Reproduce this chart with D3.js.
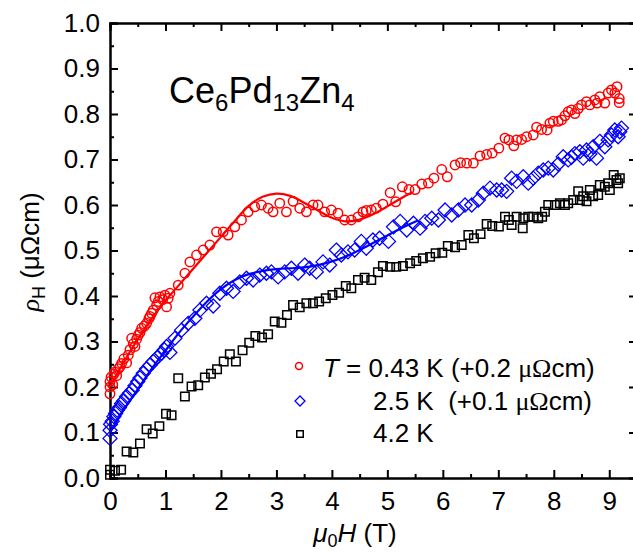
<!DOCTYPE html>
<html>
<head>
<meta charset="utf-8">
<script src="https://cdn.jsdelivr.net/npm/d3@7"></script>
<style>
  body { margin: 0; background: #fff; }
  text { font-family: "Liberation Sans", Arial, sans-serif; fill: #000; }
</style>
</head>
<body>
<div id="chart"></div>
<script>
// rho_H (uOhm cm) vs mu0H (T), three temperatures
const t043 = [[0.00,0.185],[0.00,0.200],[0.00,0.212],[0.02,0.222],[0.05,0.205],[0.07,0.228],[0.09,0.233],[0.12,0.225],[0.15,0.240],[0.18,0.245],[0.21,0.252],[0.25,0.262],[0.30,0.253],[0.33,0.270],[0.36,0.282],[0.39,0.307],[0.42,0.295],[0.45,0.289],[0.48,0.305],[0.51,0.314],[0.54,0.320],[0.57,0.329],[0.62,0.334],[0.66,0.340],[0.70,0.350],[0.72,0.355],[0.75,0.362],[0.78,0.369],[0.81,0.396],[0.84,0.380],[0.87,0.388],[0.90,0.398],[0.95,0.392],[0.99,0.402],[1.02,0.376],[1.05,0.395],[1.08,0.406],[1.23,0.424],[1.35,0.45],[1.44,0.475],[1.56,0.49],[1.68,0.501],[1.80,0.512],[1.92,0.541],[2.04,0.541],[2.13,0.534],[2.25,0.552],[2.37,0.567],[2.49,0.585],[2.61,0.596],[2.73,0.60],[2.85,0.593],[2.94,0.585],[3.06,0.604],[3.18,0.585],[3.30,0.608],[3.42,0.593],[3.54,0.585],[3.66,0.60],[3.75,0.60],[3.87,0.585],[3.99,0.589],[4.11,0.582],[4.23,0.567],[4.35,0.567],[4.47,0.574],[4.56,0.585],[4.62,0.588],[4.71,0.589],[4.80,0.593],[4.92,0.602],[5.05,0.627],[5.15,0.607],[5.27,0.64],[5.39,0.634],[5.50,0.634],[5.62,0.646],[5.74,0.648],[5.84,0.659],[5.98,0.678],[6.08,0.662],[6.22,0.688],[6.32,0.693],[6.43,0.692],[6.55,0.692],[6.67,0.708],[6.79,0.711],[6.89,0.714],[7.01,0.725],[7.12,0.747],[7.19,0.743],[7.28,0.73],[7.33,0.743],[7.42,0.744],[7.51,0.75],[7.63,0.754],[7.69,0.771],[7.78,0.766],[7.88,0.765],[7.93,0.78],[7.99,0.784],[8.08,0.784],[8.14,0.787],[8.20,0.796],[8.26,0.805],[8.32,0.809],[8.38,0.801],[8.44,0.812],[8.50,0.82],[8.59,0.827],[8.65,0.82],[8.74,0.831],[8.78,0.824],[8.83,0.838],[8.92,0.824],[8.98,0.846],[9.04,0.853],[9.10,0.846],[9.14,0.86],[9.18,0.834],[9.18,0.825]];

const t25 = [[0.00,0.087],[0.00,0.105],[0.01,0.118],[0.04,0.125],[0.07,0.135],[0.10,0.142],[0.13,0.149],[0.17,0.155],[0.21,0.164],[0.25,0.170],[0.30,0.179],[0.35,0.186],[0.40,0.193],[0.45,0.203],[0.50,0.212],[0.54,0.220],[0.60,0.230],[0.66,0.240],[0.72,0.248],[0.78,0.256],[0.85,0.265],[0.93,0.274],[0.98,0.282],[1.02,0.289],[1.08,0.276],[1.17,0.307],[1.29,0.325],[1.41,0.34],[1.53,0.351],[1.62,0.369],[1.74,0.384],[1.86,0.378],[1.98,0.406],[2.10,0.417],[2.22,0.41],[2.34,0.431],[2.46,0.439],[2.58,0.435],[2.70,0.446],[2.82,0.45],[2.91,0.453],[3.03,0.442],[3.15,0.453],[3.27,0.461],[3.39,0.45],[3.51,0.468],[3.60,0.461],[3.72,0.453],[3.84,0.475],[3.96,0.468],[4.08,0.501],[4.17,0.49],[4.29,0.497],[4.41,0.501],[4.53,0.52],[4.62,0.505],[4.74,0.523],[4.86,0.527],[5.02,0.52],[5.11,0.552],[5.23,0.564],[5.35,0.545],[5.47,0.56],[5.59,0.549],[5.68,0.564],[5.80,0.571],[5.92,0.567],[6.04,0.589],[6.16,0.578],[6.28,0.589],[6.40,0.60],[6.52,0.60],[6.64,0.611],[6.73,0.626],[6.85,0.637],[6.97,0.633],[7.06,0.633],[7.15,0.63],[7.24,0.659],[7.33,0.652],[7.45,0.662],[7.54,0.648],[7.63,0.659],[7.72,0.67],[7.81,0.677],[7.90,0.681],[7.99,0.677],[8.08,0.69],[8.17,0.706],[8.26,0.699],[8.32,0.705],[8.38,0.713],[8.47,0.717],[8.53,0.703],[8.59,0.721],[8.65,0.712],[8.71,0.728],[8.77,0.703],[8.83,0.74],[8.92,0.728],[8.98,0.743],[9.04,0.754],[9.10,0.765],[9.16,0.75],[9.19,0.761],[9.22,0.769]];

const t42 = [[0.00,0.007],[0.00,0.018],[0.09,0.016],[0.20,0.018],[0.30,0.058],[0.42,0.056],[0.54,0.076],[0.66,0.107],[0.77,0.098],[0.89,0.114],[1.01,0.141],[1.11,0.138],[1.23,0.219],[1.35,0.179],[1.47,0.201],[1.59,0.204],[1.71,0.221],[1.82,0.229],[1.93,0.239],[2.05,0.256],[2.16,0.272],[2.27,0.256],[2.39,0.281],[2.51,0.297],[2.62,0.312],[2.74,0.309],[2.85,0.316],[2.97,0.344],[3.09,0.341],[3.19,0.358],[3.30,0.38],[3.42,0.375],[3.54,0.384],[3.66,0.384],[3.77,0.388],[3.89,0.395],[4.01,0.402],[4.13,0.407],[4.25,0.422],[4.35,0.417],[4.47,0.435],[4.59,0.44],[4.71,0.435],[4.83,0.452],[4.92,0.466],[5.05,0.464],[5.16,0.464],[5.28,0.466],[5.41,0.472],[5.52,0.477],[5.64,0.483],[5.77,0.486],[5.87,0.494],[5.99,0.495],[6.09,0.51],[6.22,0.507],[6.34,0.512],[6.46,0.534],[6.56,0.527],[6.68,0.536],[6.79,0.558],[6.89,0.554],[7.01,0.553],[7.12,0.574],[7.19,0.567],[7.24,0.556],[7.33,0.574],[7.44,0.549],[7.45,0.571],[7.54,0.574],[7.63,0.574],[7.72,0.571],[7.79,0.574],[7.84,0.585],[7.90,0.60],[8.02,0.60],[8.11,0.604],[8.20,0.60],[8.26,0.604],[8.35,0.611],[8.44,0.63],[8.47,0.611],[8.53,0.619],[8.59,0.608],[8.65,0.633],[8.71,0.619],[8.80,0.622],[8.83,0.644],[8.92,0.64],[8.98,0.648],[9.01,0.633],[9.08,0.666],[9.13,0.655],[9.16,0.648],[9.19,0.659]];

// model curves drawn through the 0.43 K and 2.5 K data
const fit043 = [[0,0.20],[0.25,0.255],[0.5,0.305],[0.75,0.35],[1.0,0.39],[1.25,0.425],[1.5,0.46],[1.75,0.495],[2.0,0.53],[2.25,0.565],[2.5,0.598],[2.75,0.618],[3.0,0.625],[3.25,0.62],[3.5,0.605],[3.75,0.588],[4.0,0.572],[4.25,0.564],[4.5,0.568],[4.75,0.58],[5.0,0.597],[5.25,0.615],[5.45,0.628]];
const fit25 = [[0,0.10],[0.25,0.15],[0.5,0.195],[0.75,0.24],[1.0,0.28],[1.25,0.32],[1.5,0.355],[1.75,0.388],[2.0,0.415],[2.25,0.435],[2.5,0.448],[2.75,0.455],[3.0,0.459],[3.25,0.461],[3.5,0.463],[3.75,0.468],[4.0,0.476],[4.25,0.487],[4.5,0.501],[4.75,0.517],[5.0,0.533],[5.25,0.549],[5.55,0.566]];

const xMajor = [0,1,2,3,4,5,6,7,8,9];
const yMajor = [0,0.1,0.2,0.3,0.4,0.5,0.6,0.7,0.8,0.9,1.0];

const W = 633, H = 552;
const mLeft = 110, mTop = 23, mRight = 637, mBottom = 478;

const svg = d3.select("#chart").append("svg")
    .attr("width", W).attr("height", H);

const x = d3.scaleLinear().domain([0, 9.5]).range([mLeft, mRight]);
const y = d3.scaleLinear().domain([0, 1]).range([mBottom, mTop]);

const xMinor = d3.range(0.5, 9.6, 1);
const yMinor = d3.range(0.05, 1, 0.1);

function styleAxis(g) {
    g.select(".domain").attr("stroke", "#000").attr("stroke-width", 2);
    g.selectAll(".tick line").attr("stroke", "#000").attr("stroke-width", 2);
    g.selectAll("text").style("font-size", "26px").attr("fill", "#000");
}

// bottom
svg.append("g").attr("transform", `translate(0,${mBottom})`)
    .call(d3.axisBottom(x).tickValues(xMajor).tickSize(-8).tickPadding(14).tickFormat(d3.format("d")))
    .call(styleAxis);
svg.append("g").attr("transform", `translate(0,${mBottom})`)
    .call(d3.axisBottom(x).tickValues(xMinor).tickSize(-4).tickFormat(""))
    .call(styleAxis);
// top
svg.append("g").attr("transform", `translate(0,${mTop})`)
    .call(d3.axisTop(x).tickValues(xMajor).tickSize(-8).tickFormat(""))
    .call(styleAxis);
svg.append("g").attr("transform", `translate(0,${mTop})`)
    .call(d3.axisTop(x).tickValues(xMinor).tickSize(-4).tickFormat(""))
    .call(styleAxis);
// left
svg.append("g").attr("transform", `translate(${mLeft},0)`)
    .call(d3.axisLeft(y).tickValues(yMajor).tickSize(-8).tickPadding(10).tickFormat(d3.format(".1f")))
    .call(styleAxis);
svg.append("g").attr("transform", `translate(${mLeft},0)`)
    .call(d3.axisLeft(y).tickValues(yMinor).tickSize(-4).tickFormat(""))
    .call(styleAxis);
// right
svg.append("g").attr("transform", `translate(${mRight},0)`)
    .call(d3.axisRight(y).tickValues(yMajor).tickSize(-8).tickFormat(""))
    .call(styleAxis);
svg.append("g").attr("transform", `translate(${mRight},0)`)
    .call(d3.axisRight(y).tickValues(yMinor).tickSize(-4).tickFormat(""))
    .call(styleAxis);

// fit lines
const line = d3.line().curve(d3.curveCatmullRom).x(d => x(d[0])).y(d => y(d[1]));
svg.append("path").datum(fit043).attr("d", line)
    .attr("fill", "none").attr("stroke", "#ff0000").attr("stroke-width", 2.2);
svg.append("path").datum(fit25).attr("d", line)
    .attr("fill", "none").attr("stroke", "#0000ff").attr("stroke-width", 2.2);

// markers
const sq = d3.symbol().type(d3.symbolSquare).size(72);
svg.append("g").selectAll("path").data(t42).join("path")
    .attr("d", sq)
    .attr("transform", d => `translate(${x(d[0])},${y(d[1])})`)
    .attr("fill", "none").attr("stroke", "#000").attr("stroke-width", 1.5);

const diamond = s => `M0,${-s}L${s},0L0,${s}L${-s},0Z`;
svg.append("g").selectAll("path").data(t25).join("path")
    .attr("d", diamond(7))
    .attr("transform", d => `translate(${x(d[0])},${y(d[1])})`)
    .attr("fill", "none").attr("stroke", "#0000ff").attr("stroke-width", 1.3);

svg.append("g").selectAll("circle").data(t043).join("circle")
    .attr("cx", d => x(d[0])).attr("cy", d => y(d[1])).attr("r", 4.7)
    .attr("fill", "none").attr("stroke", "#ff0000").attr("stroke-width", 1.5);

// title
svg.append("text").attr("x", 169).attr("y", 103)
    .style("font-size", "36px")
    .call(t => {
        t.append("tspan").text("Ce");
        t.append("tspan").attr("dy", 8).style("font-size", "24px").text("6");
        t.append("tspan").attr("dy", -8).text("Pd");
        t.append("tspan").attr("dy", 8).style("font-size", "24px").text("13");
        t.append("tspan").attr("dy", -8).text("Zn");
        t.append("tspan").attr("dy", 8).style("font-size", "24px").text("4");
    });

// legend
const lg = svg.append("g");
lg.append("circle").attr("cx", 299).attr("cy", 366).attr("r", 3.5)
    .attr("fill", "none").attr("stroke", "#ff0000").attr("stroke-width", 1.5);
lg.append("path").attr("d", diamond(5)).attr("transform", "translate(300,401)")
    .attr("fill", "none").attr("stroke", "#0000ff").attr("stroke-width", 1.3);
lg.append("path").attr("d", d3.symbol().type(d3.symbolSquare).size(42)).attr("transform", "translate(300,434)")
    .attr("fill", "none").attr("stroke", "#000").attr("stroke-width", 1.5);

function legendText(xp, yp, parts) {
    const t = lg.append("text").attr("x", xp).attr("y", yp).style("font-size", "26px")
        .style("white-space", "pre");
    parts.forEach(p => {
        const s = t.append("tspan").text(p.t);
        if (p.i) s.style("font-style", "italic");
        if (p.serif) s.style("font-family", "'Liberation Serif', 'Times New Roman', serif");
    });
}
legendText(323, 377, [{t: "T", i: true}, {t: " = 0.43 K (+0.2 "}, {t: "\u03bc\u03a9", serif: true}, {t: "cm)"}]);
legendText(373, 410, [{t: "2.5 K  (+0.1 "}, {t: "\u03bc\u03a9", serif: true}, {t: "cm)"}]);
legendText(373, 442, [{t: "4.2 K"}]);

// axis titles
svg.append("text").attr("x", 355).attr("y", 542).attr("text-anchor", "middle")
    .style("font-size", "26px")
    .call(t => {
        t.append("tspan").style("font-style", "italic").text("\u03bc");
        t.append("tspan").attr("dy", 5).style("font-size", "18px").text("0");
        t.append("tspan").attr("dy", -5).style("font-style", "italic").text("H");
        t.append("tspan").text(" (T)");
    });

svg.append("text").attr("transform", "translate(39,252) rotate(-90)").attr("text-anchor", "middle")
    .style("font-size", "26px")
    .call(t => {
        t.append("tspan").style("font-style", "italic")
            .style("font-family", "'Liberation Serif', serif").text("\u03c1");
        t.append("tspan").attr("dy", 6).style("font-size", "18px").text("H");
        t.append("tspan").attr("dy", -6).text(" (\u03bc\u03a9cm)");
    });
</script>
</body>
</html>
